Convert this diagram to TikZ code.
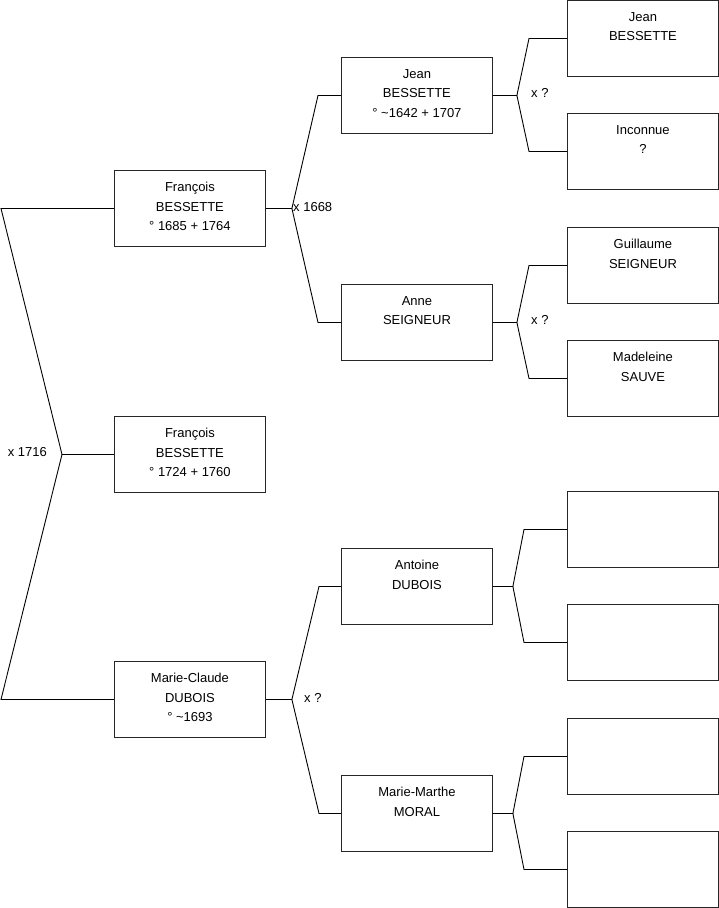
\documentclass[tikz,border=0pt]{standalone}
\usepackage{fontspec}
\setmainfont{Liberation Sans}
\usetikzlibrary{calc}
\tikzset{
  personbox/.style={draw=black!85, line width=0.9pt, minimum width=151, minimum height=76,
    inner sep=12pt, anchor=north west, font=\fontsize{13}{19.5}\selectfont,
    execute at begin node={\begin{minipage}[t][52pt][t]{127pt}\centering},
    execute at end node={\end{minipage}}},
  link/.style={line width=0.9pt, black},
  union/.style={inner sep=0pt, font=\fontsize{13}{15}\selectfont}
}
\begin{document}
\begin{tikzpicture}[x=1pt, y=-1pt]
\useasboundingbox (0,0) rectangle (719,908);
% generation 1
\node[personbox] (fp) at (114,170) {François\\BESSETTE\\° 1685 + 1764};
\node[personbox] (fc) at (114,416) {François\\BESSETTE\\° 1724 + 1760};
\node[personbox] (mc) at (114,661) {Marie-Claude\\DUBOIS\\° \textasciitilde1693};
% generation 2
\node[personbox] (jb) at (341,57) {Jean\\BESSETTE\\° \textasciitilde1642 + 1707};
\node[personbox] (as) at (341,284) {Anne\\SEIGNEUR};
\node[personbox] (ad) at (341,548) {Antoine\\DUBOIS};
\node[personbox] (mm) at (341,775) {Marie-Marthe\\MORAL};
% generation 3
\node[personbox] (jbf) at (567,0) {Jean\\BESSETTE};
\node[personbox] (jbm) at (567,113) {Inconnue\\?};
\node[personbox] (asf) at (567,227) {Guillaume\\SEIGNEUR};
\node[personbox] (asm) at (567,340) {Madeleine\\SAUVE};
\node[personbox] (adf) at (567,491) {};
\node[personbox] (adm) at (567,604) {};
\node[personbox] (mmf) at (567,718) {};
\node[personbox] (mmm) at (567,831) {};
% brackets
\draw[link] (fc.west) -- ++(-52,0) coordinate (xA);
\draw[link] (fp.west) -- ++(-113,0) -- (xA) -- ($(mc.west)+(-113,0)$) -- (mc.west);
\draw[link] (fp.east) -- ++(26,0) coordinate (xB) -- ($(jb.west)+(-23,0)$) -- (jb.west);
\draw[link] (xB) -- ($(as.west)+(-23,0)$) -- (as.west);
\draw[link] (mc.east) -- ++(26,0) coordinate (xC) -- ($(ad.west)+(-22,0)$) -- (ad.west);
\draw[link] (xC) -- ($(mm.west)+(-22,0)$) -- (mm.west);
\draw[link] (jb.east) -- ++(24,0) coordinate (xD) -- ($(jbf.west)+(-38,0)$) -- (jbf.west);
\draw[link] (xD) -- ($(jbm.west)+(-38,0)$) -- (jbm.west);
\draw[link] (as.east) -- ++(24,0) coordinate (xE) -- ($(asf.west)+(-38,0)$) -- (asf.west);
\draw[link] (xE) -- ($(asm.west)+(-38,0)$) -- (asm.west);
\draw[link] (ad.east) -- ++(20,0) coordinate (xF) -- ($(adf.west)+(-43,0)$) -- (adf.west);
\draw[link] (xF) -- ($(adm.west)+(-43,0)$) -- (adm.west);
\draw[link] (mm.east) -- ++(20,0) coordinate (xG) -- ($(mmf.west)+(-43,0)$) -- (mmf.west);
\draw[link] (xG) -- ($(mmm.west)+(-43,0)$) -- (mmm.west);
% marriages
\node[union, anchor=east] (mA) at (47,452) {x 1716};
\node[union, anchor=west] (mB) at (293,207) {x 1668};
\node[union, anchor=west] (mC) at (304,698) {x ?};
\node[union, anchor=west] (mD) at (531,93) {x ?};
\node[union, anchor=west] (mE) at (531,320) {x ?};
\end{tikzpicture}
\end{document}
